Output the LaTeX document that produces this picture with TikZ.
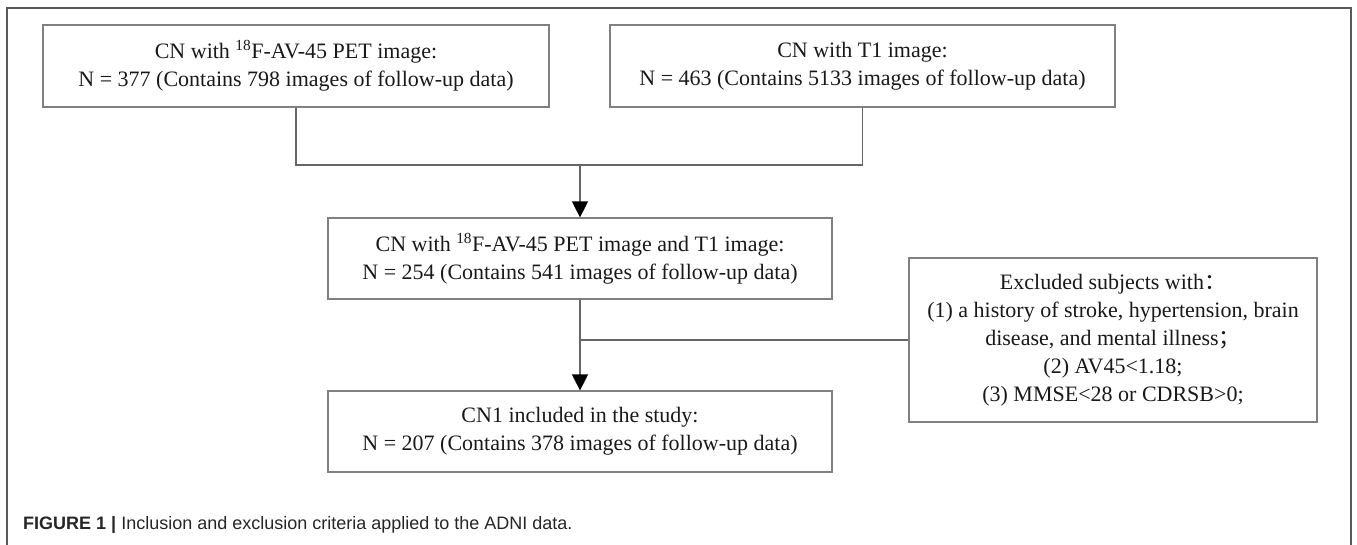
\documentclass[tikz,border=0pt]{standalone}
\usepackage{fontspec}
\setmainfont{Liberation Serif}
\newfontfamily\capfont{Liberation Sans}
\newfontfamily\cjk{Noto Sans CJK SC}
\usetikzlibrary{arrows.meta}
\tikzset{
	box/.style={draw=black!50,line width=1.2pt,inner sep=0pt,align=center,text=black!90,font=\fontsize{22}{28}\selectfont},
	link/.style={draw=black!60,line width=1.2pt},
	arr/.style={link,-{Triangle[length=16pt,width=16pt,color=black]}}
}
\begin{document}
\begin{tikzpicture}[x=1pt,y=1pt]
	\useasboundingbox(0,0)rectangle(1357,-544);
	\draw[black!65,line width=1.5pt](7,-548)--(7,-8)--(1351,-8)--(1351,-548);
	\node[box,minimum width=506pt,minimum height=82pt](pet)at(296,-66){CN with \textsuperscript{18}F-AV-45 PET image:\\N = 377 (Contains 798 images of follow-up data)};
	\node[box,minimum width=505pt,minimum height=82pt](tone)at(862.5,-66){CN with T1 image:\\N = 463 (Contains 5133 images of follow-up data)};
	\node[box,minimum width=504pt,minimum height=81pt](both)at(580,-258.5){CN with \textsuperscript{18}F-AV-45 PET image and T1 image:\\N = 254 (Contains 541 images of follow-up data)};
	\node[box,minimum width=504pt,minimum height=81pt](incl)at(580,-431.5){CN1 included in the study:\\N = 207 (Contains 378 images of follow-up data)};
	\node[box,minimum width=408pt,minimum height=164pt](excl)at(1113,-340){Excluded subjects with{\cjk ：}\\(1) a history of stroke, hypertension, brain\\disease, and mental illness{\cjk ；}\\(2) AV45<1.18;\\(3) MMSE<28 or CDRSB>0;};
	\coordinate(join)at(580,-165);
	\draw[link](pet.south)|-(join)-|(tone.south);
	\draw[arr](join)--(both.north);
	\draw[arr](both.south)--(incl.north);
	\draw[link](excl.west)--(excl.west-|both.south);
	\node[anchor=base west,inner sep=0pt,text=black!85,font=\capfont\fontsize{18}{22}\selectfont](cap)at(23,-529){\textbf{FIGURE 1 |} Inclusion and exclusion criteria applied to the ADNI data.};
\end{tikzpicture}
\end{document}
